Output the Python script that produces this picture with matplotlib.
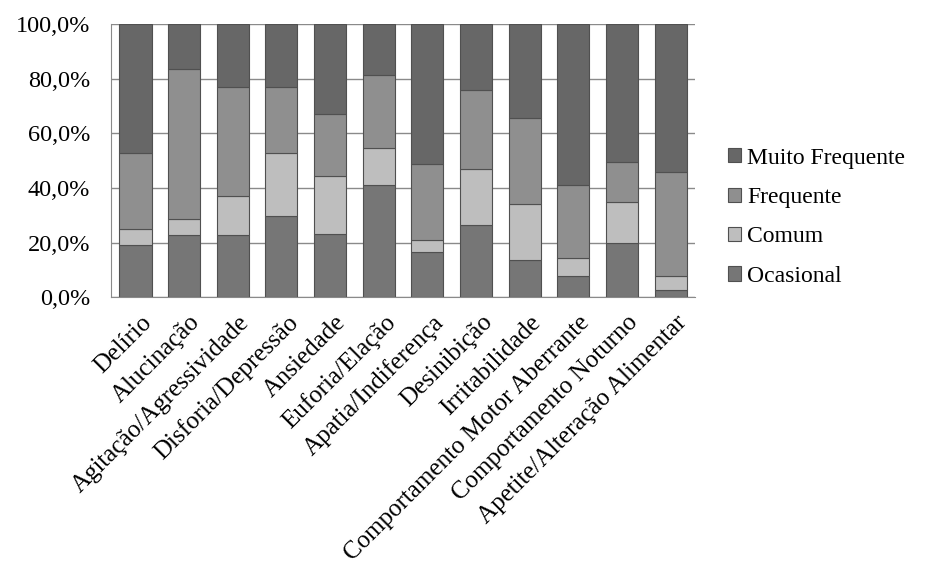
import numpy as np
import matplotlib
matplotlib.use('Agg')
from matplotlib import pyplot as plt
from matplotlib.ticker import FuncFormatter

plt.rcParams['font.family'] = ['Liberation Serif', 'DejaVu Serif']

categorias = ['Delírio', 'Alucinação', 'Agitação/Agressividade', 'Disforia/Depressão',
              'Ansiedade', 'Euforia/Elação', 'Apatia/Indiferença', 'Desinibição',
              'Irritabilidade', 'Comportamento Motor Aberrante', 'Comportamento Noturno',
              'Apetite/Alteração Alimentar']

# percentual de cada nivel
ocasional = [19.0, 22.7, 22.7, 29.7, 23.1, 41.0, 16.4, 26.4, 13.6, 7.9, 19.8, 2.6]
comum = [6.0, 6.0, 14.5, 22.9, 21.1, 13.5, 4.7, 20.7, 20.4, 6.3, 14.9, 5.0]
frequente = [27.7, 54.8, 39.7, 24.3, 22.8, 26.8, 27.7, 28.7, 31.7, 26.8, 14.8, 38.2]
muito_frequente = [47.3, 16.5, 23.1, 23.1, 33.0, 18.7, 51.2, 24.2, 34.3, 59.0, 50.5, 54.2]

series = [('Ocasional', ocasional, '#767676'),
          ('Comum', comum, '#bebebe'),
          ('Frequente', frequente, '#8f8f8f'),
          ('Muito Frequente', muito_frequente, '#676767')]

fig = plt.figure(figsize=(9.34, 5.84), dpi=100)
ax = fig.add_axes([0.119, 0.491, 0.625, 0.468])

x = np.arange(len(categorias))
base = np.zeros(len(categorias))
handles = []
for nome, vals, cor in series:
    b = ax.bar(x, vals, 0.66, bottom=base, color=cor, edgecolor='#505050',
               linewidth=0.8, label=nome, zorder=3)
    handles.append(b)
    base += np.array(vals)

ax.set_xlim(-0.5, len(categorias) - 0.5)
ax.set_ylim(0, 100)
ax.set_yticks(np.arange(0, 101, 20))
ax.yaxis.set_major_formatter(FuncFormatter(lambda v, p: '{:.1f}%'.format(v).replace('.', ',')))
ax.grid(axis='y', color='#8a8a8a', linewidth=1, zorder=0)
for s in ['top', 'right']:
    ax.spines[s].set_visible(False)
for s in ['left', 'bottom']:
    ax.spines[s].set_color('#8a8a8a')
ax.tick_params(axis='y', length=0, labelsize=17.5, pad=15)
ax.tick_params(axis='x', length=0, labelsize=18, pad=10)
ax.set_xticks(x + 0.1)
ax.set_xticklabels(categorias, rotation=45, ha='right', rotation_mode='anchor')

leg = fig.legend(handles[::-1], [s[0] for s in series][::-1], loc='center left',
                 bbox_to_anchor=(0.757, 0.628), frameon=False, fontsize=17,
                 handlelength=0.55, handleheight=0.55, handletextpad=0.25, labelspacing=0.78)

fig.savefig('out.png', dpi=100)
